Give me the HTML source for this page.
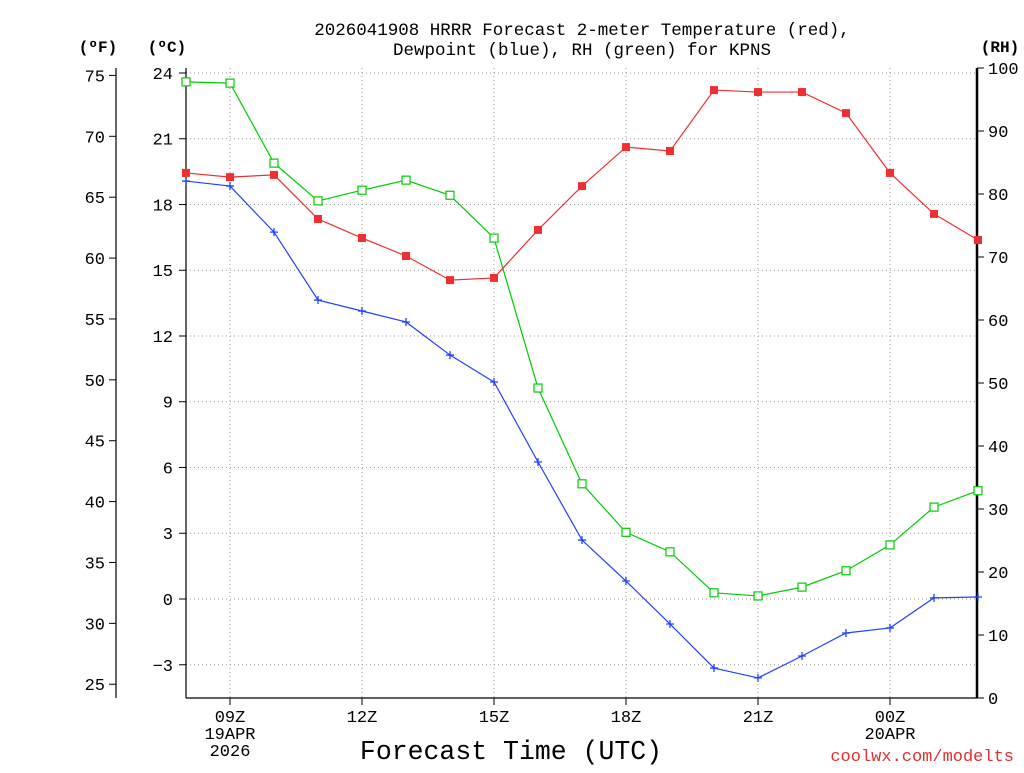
<!DOCTYPE html>
<html><head><meta charset="utf-8"><style>
body{margin:0;background:#fff;}
svg text{font-family:"Liberation Mono","DejaVu Sans Mono",monospace;}
</style></head><body>
<svg id="chart" width="1024" height="768" xmlns="http://www.w3.org/2000/svg">
<text x="582" y="35" font-size="17.5" text-anchor="middle">2026041908 HRRR Forecast 2-meter Temperature (red),</text>
<text x="582" y="55" font-size="17.5" text-anchor="middle">Dewpoint (blue), RH (green) for KPNS</text>
<text x="98" y="52" font-size="16" font-weight="bold" text-anchor="middle">(ºF)</text>
<text x="167" y="52" font-size="16" font-weight="bold" text-anchor="middle">(ºC)</text>
<text x="1000" y="52" font-size="16" font-weight="bold" text-anchor="middle">(RH)</text>
<text x="511" y="759" font-size="26.5" text-anchor="middle">Forecast Time (UTC)</text>
<text x="1014" y="761" font-size="17" fill="#e03030" text-anchor="end">coolwx.com/modelts</text>
<g id="grid"></g><g id="axes"></g><g id="series"></g>
</svg>
<script>
const hours=[0,1,2,3,4,5,6,7,8,9,10,11,12,13,14,15,16,17,18];
const tempC=[19.44,19.25,19.35,17.34,16.47,15.65,14.55,14.65,16.84,18.84,20.62,20.44,23.22,23.13,23.13,22.17,19.44,17.57,16.38];
const dewC=[19.07,18.84,16.74,13.64,13.14,12.64,11.13,9.90,6.25,2.69,0.82,-1.14,-3.15,-3.60,-2.60,-1.55,-1.32,0.05,0.09];
const rh=[97.8,97.6,84.9,78.9,80.6,82.2,79.8,73.0,49.2,34.0,26.3,23.2,16.7,16.2,17.6,20.2,24.3,30.3,32.9];
const cTicks=[-3,0,3,6,9,12,15,18,21,24];
const fTicks=[25,30,35,40,45,50,55,60,65,70,75];
const rhTicks=[0,10,20,30,40,50,60,70,80,90,100];
const xTickHours=[1,4,7,10,13,16];
const xTickLabels=[["09Z","19APR","2026"],["12Z"],["15Z"],["18Z"],["21Z"],["00Z","20APR"]];

const X0=186,X1=977,Y0=68,Y1=698;
const xs=h=>X0+h*44;
const yC=c=>599-c*21.917;
const yF=f=>yC((f-32)*5/9);
const yR=r=>698-r*6.3;
const NS="http://www.w3.org/2000/svg";
function mk(tag,attrs,parent,txt){const e=document.createElementNS(NS,tag);for(const k in attrs)e.setAttribute(k,attrs[k]);if(txt!==undefined)e.textContent=txt;document.getElementById(parent).appendChild(e);return e;}
cTicks.forEach(c=>{const e=mk('line',{x1:X0,x2:X1,y1:yC(c),y2:yC(c),stroke:'#999','stroke-dasharray':'1,3'},'grid');

});
xTickHours.forEach(h=>{const e=mk('line',{x1:xs(h),x2:xs(h),y1:Y0,y2:Y1,stroke:'#999','stroke-dasharray':'1,3'},'grid');

});
[[X0,Y0,X0,Y1],[X0,Y1,X1,Y1],[X1,Y0,X1,Y1],[116,Y0,116,Y1]].forEach((a,i)=>{const e=mk('line',{x1:a[0],y1:a[1],x2:a[2],y2:a[3],stroke:'#000','stroke-width':i==2?2.5:1.2},'axes');

});
cTicks.forEach(c=>{const y=yC(c);mk('line',{x1:X0-7,x2:X0,y1:y,y2:y,stroke:'#000'},'axes');
const t=mk('text',{x:X0-13,y:y+6,'font-size':17,'text-anchor':'end'},'axes',c<0?'\u2212'+(-c):String(c));

});
fTicks.forEach(f=>{const y=yF(f);mk('line',{x1:109,x2:116,y1:y,y2:y,stroke:'#000'},'axes');
const t=mk('text',{x:105,y:y+6,'font-size':17,'text-anchor':'end'},'axes',String(f));

});
rhTicks.forEach(r=>{const y=yR(r);mk('line',{x1:X1,x2:X1+7,y1:y,y2:y,stroke:'#000'},'axes');
const t=mk('text',{x:988,y:y+6,'font-size':17},'axes',String(r));

});
xTickHours.forEach((h,i)=>{mk('line',{x1:xs(h),x2:xs(h),y1:Y1,y2:Y1+7,stroke:'#000'},'axes');
xTickLabels[i].forEach((s,j)=>{const t=mk('text',{x:xs(h),y:722+j*17,'font-size':17,'text-anchor':'middle'},'axes',s);

});});
function line(vals,yf,col,name){const p=mk('polyline',{points:vals.map((v,i)=>xs(hours[i])+','+yf(v)).join(' '),fill:'none',stroke:col,'stroke-width':1.2},'series');

}
line(rh,yR,'#00cc00','rh-line');
line(tempC,yC,'#f03030','temperature-line');
line(dewC,yC,'#2040ff','dewpoint-line');
rh.forEach((v,i)=>{const e=mk('rect',{x:xs(hours[i])-4,y:yR(v)-4,width:8,height:8,fill:'#fff',stroke:'#00cc00','stroke-width':1.2},'series');

});
tempC.forEach((v,i)=>{const e=mk('rect',{x:xs(hours[i])-4,y:yC(v)-4,width:8,height:8,fill:'#f03030'},'series');

});
dewC.forEach((v,i)=>{const x=xs(hours[i]),y=yC(v);const e=mk('path',{d:`M${x-4},${y}H${x+4}M${x},${y-4}V${y+4}`,stroke:'#2040ff','stroke-width':1.3},'series');

});
</script>
</body></html>
